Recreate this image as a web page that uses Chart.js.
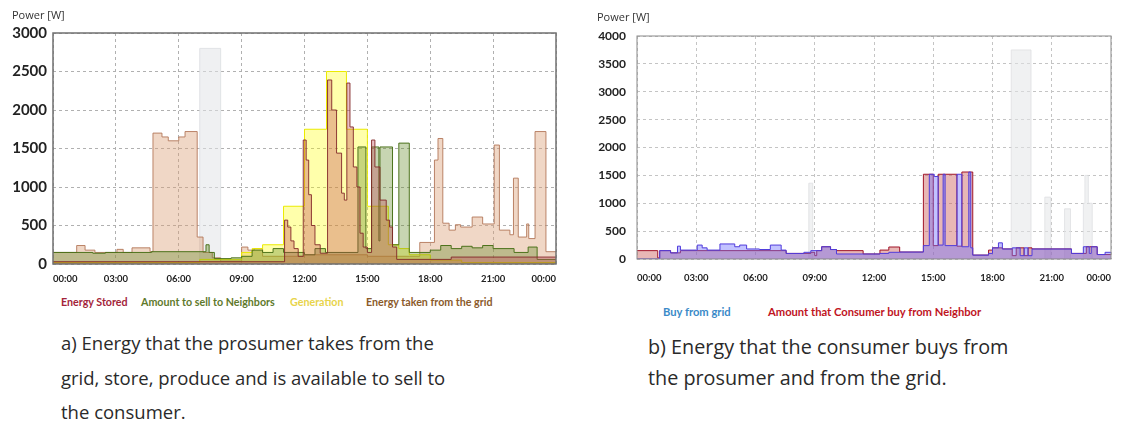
<!DOCTYPE html>
<html>
<head>
<meta charset="utf-8">
<script src="https://cdn.jsdelivr.net/npm/chart.js@4.4.1/dist/chart.umd.min.js"></script>
<style>
  body { margin: 0; background: #fff; }
  #wrap { position: relative; width: 1124px; height: 422px; overflow: hidden; background: #fff; }
  canvas { position: absolute; top: 0; }
  .txt { position: absolute; white-space: nowrap; }
  .unit { font: 11px 'Open Sans', sans-serif; color: #333; }
  .leg { font: bold 10.7px Lato, sans-serif; height: 14px; line-height: 14px; }
  .cap { font: 18.5px 'Open Sans', sans-serif; color: #2a2a2a; height: 26px; line-height: 26px; }
</style>
</head>
<body>
<div id="wrap">
  <canvas id="left-chart" width="572" height="290" style="left:0"></canvas>
  <canvas id="right-chart" width="544" height="290" style="left:580px"></canvas>

  <div class="txt unit" style="left:12px; top:7px">Power [W]</div>
  <div class="txt unit" style="left:597px; top:9px">Power [W]</div>

  <div class="txt leg" style="left:61px; top:295px; color:#a3243a">Energy Stored</div>
  <div class="txt leg" style="left:141px; top:295px; color:#5f7a2c">Amount to sell to Neighbors</div>
  <div class="txt leg" style="left:290px; top:295px; color:#e8d44a">Generation</div>
  <div class="txt leg" style="left:366px; top:295px; color:#8a5a2a">Energy taken from the grid</div>

  <div class="txt leg" style="left:663px; top:305px; color:#3a8ac8; font-size:11.2px">Buy from grid</div>
  <div class="txt leg" style="left:768px; top:305px; color:#c0141e; font-size:11.2px">Amount that Consumer buy from Neighbor</div>

  <div class="txt cap" style="left:61px; top:330px">a) Energy that the prosumer takes from the</div>
  <div class="txt cap" style="left:61px; top:365px">grid, store, produce and is available to sell to</div>
  <div class="txt cap" style="left:61px; top:399px">the consumer.</div>
  <div class="txt cap" style="left:648px; top:334px; font-size:19.8px">b) Energy that the consumer buys from</div>
  <div class="txt cap" style="left:648px; top:365px; font-size:19.8px">the prosumer and from the grid.</div>
</div>

<script>
// ---- a) prosumer (hours of the day, W) ----
let storedT = [0, 11.05, 11.2, 11.35, 11.5, 11.7, 11.94, 12.08, 12.2, 12.33, 12.5, 12.75, 13.1, 13.3, 13.53, 13.77, 13.9, 14.02, 14.17, 14.33, 14.5, 14.65, 14.8, 15.0, 15.2, 15.36, 15.6, 15.9, 16.06, 16.2, 16.4, 19.0, 24];
let storedV = [30, 570, 480, 300, 200, 100, 1610, 1350, 900, 500, 250, 140, 2390, 2000, 1440, 920, 830, 2350, 1780, 1260, 1000, 400, 220, 150, 1610, 1260, 830, 570, 480, 220, 60, 90, 90];

let sellT = [0, 1.9, 2.5, 4.7, 7.3, 7.45, 7.7, 8.5, 9.0, 9.5, 10.0, 10.5, 11.0, 12.0, 12.5, 13.0, 14.55, 14.93, 15.2, 15.55, 15.6, 16.2, 16.5, 17.0, 18.0, 18.5, 19.0, 19.5, 20.0, 20.5, 21.0, 22.0, 22.67, 23.1, 24];
let sellV = [150, 140, 150, 160, 250, 150, 70, 80, 100, 180, 150, 200, 150, 120, 200, 150, 1520, 200, 1520, 300, 1520, 250, 1570, 150, 180, 240, 200, 230, 210, 240, 200, 150, 220, 60, 60];

let genT = [0, 7.0, 9.0, 9.5, 10.0, 11.0, 12.0, 13.05, 14.0, 15.0, 16.0, 16.5, 17.0, 18.0, 19.5, 24];
let genV = [20, 60, 150, 200, 250, 750, 1750, 2500, 1750, 750, 250, 200, 120, 50, 20, 20];

let gridT = [0, 1.13, 1.53, 2.0, 3.05, 3.35, 3.77, 4.63, 4.77, 5.2, 5.5, 6.0, 6.3, 6.88, 7.16, 7.6, 8.0, 9.0, 9.3, 9.6, 10.0, 12.0, 15.0, 17.0, 17.5, 18.2, 18.37, 18.6, 18.9, 19.2, 19.45, 20.0, 20.5, 21.05, 21.3, 21.8, 21.97, 22.2, 22.6, 22.7, 23.0, 23.52, 24];
let gridV = [150, 240, 180, 150, 190, 150, 210, 160, 1700, 1650, 1600, 1650, 1720, 350, 150, 80, 40, 220, 180, 200, 100, 120, 100, 100, 280, 1350, 1630, 530, 440, 510, 480, 610, 520, 1545, 440, 380, 1115, 350, 520, 330, 1720, 160, 160];

let otherAT = [0, 7.0, 8.0, 24];
let otherAV = [0, 2800, 0, 0];

// ---- b) consumer ----
let buyGridT = [0, 1.15, 1.7, 2.05, 2.2, 3.05, 3.3, 3.55, 4.2, 4.95, 5.2, 5.55, 6.2, 6.75, 7.3, 7.55, 8.45, 8.8, 9.35, 9.8, 10.1, 11.45, 12.3, 12.75, 13.3, 14.5, 14.8, 15.05, 15.25, 15.5, 15.6, 16.2, 16.45, 16.8, 16.9, 17.0, 17.8, 18.0, 18.3, 18.5, 19.0, 19.4, 19.6, 19.8, 20.0, 22.0, 22.6, 22.9, 23.0, 23.3, 23.7, 24];
let buyGridV = [0, 150, 110, 230, 160, 250, 200, 160, 270, 220, 250, 180, 170, 250, 160, 100, 120, 150, 220, 170, 90, 90, 100, 120, 125, 240, 1520, 1480, 250, 1520, 240, 1520, 220, 1560, 200, 70, 100, 200, 290, 180, 200, 60, 200, 60, 180, 100, 220, 100, 220, 80, 120, 120];

let neighborT = [0, 1.05, 1.15, 1.7, 2.2, 7.3, 7.55, 8.8, 9.0, 9.1, 9.35, 9.8, 10.1, 11.45, 12.3, 12.75, 13.3, 14.5, 15.0, 15.25, 16.2, 16.45, 17.0, 17.8, 18.0, 18.5, 19.0, 19.2, 19.6, 19.8, 20.0, 22.0, 22.75, 22.9, 23.3, 24];
let neighborV = [150, 20, 150, 110, 150, 150, 100, 120, 60, 150, 220, 170, 150, 90, 160, 215, 125, 1520, 240, 1520, 230, 1560, 70, 160, 200, 180, 60, 200, 60, 200, 180, 100, 220, 220, 80, 80];

let otherBT = [0, 8.7, 8.9, 18.95, 19.95, 20.65, 20.95, 21.65, 21.95, 22.6, 22.68, 22.85, 23.05, 24];
let otherBV = [0, 1360, 0, 3750, 0, 1110, 0, 900, 0, 1000, 1500, 1000, 0, 0];

let hourTicks = [0, 3, 6, 9, 12, 15, 18, 21, 24];

function pts(t, v) {
  return t.map((x, i) => ({ x: x, y: v[i] }));
}

function hourLabel(v) {
  let h = v % 24;
  return (h < 10 ? '0' : '') + h + ':00';
}

let frame = {
  id: 'frame',
  afterDatasetsDraw(chart, args, opts) {
    let a = chart.chartArea;
    let ctx = chart.ctx;
    ctx.save();
    ctx.strokeStyle = opts.color;
    ctx.lineWidth = opts.width;
    ctx.strokeRect(a.left, a.top, a.right - a.left, a.bottom - a.top);
    ctx.restore();
  }
};

// each value holds from its time until the next time
function series(label, t, v, fill, border) {
  return {
    label: label,
    data: pts(t, v),
    stepped: 'before',
    fill: 'origin',
    backgroundColor: fill,
    borderColor: border,
    borderWidth: 1,
    pointRadius: 0
  };
}

function makeChart(id, datasets, yMax, cfg) {
  new Chart(document.getElementById(id), {
    type: 'line',
    data: { datasets: datasets },
    plugins: [frame],
    options: {
      responsive: false,
      animation: false,
      layout: { padding: { top: cfg.top, right: cfg.right, left: 0, bottom: 0 } },
      plugins: {
        legend: { display: false },
        tooltip: { enabled: false },
        frame: { color: cfg.frameColor, width: cfg.frameWidth }
      },
      scales: {
        x: {
          type: 'linear',
          min: 0,
          max: 24,
          afterFit: s => { s.height = cfg.xh; },
          afterBuildTicks: s => { s.ticks = hourTicks.map(v => ({ value: v })); },
          border: { display: false },
          grid: { color: cfg.gridColor, drawTicks: false },
          ticks: {
            align: 'inner',
            padding: cfg.xpad,
            maxRotation: 0,
            color: '#222',
            font: { family: 'Lato', weight: 'bold', size: 9.5 },
            callback: hourLabel
          }
        },
        y: {
          min: 0,
          max: yMax,
          afterFit: s => { s.width = cfg.yw; },
          border: { display: false },
          grid: { color: cfg.gridColor, drawTicks: false },
          ticks: {
            stepSize: 500,
            padding: cfg.ypad,
            color: '#222',
            font: { family: 'Lato', weight: 'bold', size: cfg.yfont },
            callback: v => String(v)
          }
        }
      }
    }
  });
}

// dashed grid lines
Chart.defaults.scale.border.dash = [3, 3];

makeChart('left-chart', [
  series('Energy Stored', storedT, storedV, 'rgba(190, 60, 80, 0.33)', 'rgba(130, 40, 40, 0.9)'),
  series('Amount to sell to Neighbors', sellT, sellV, 'rgba(95, 135, 35, 0.35)', 'rgba(70, 110, 20, 0.95)'),
  series('Generation', genT, genV, 'rgba(255, 255, 0, 0.33)', 'rgba(235, 235, 0, 1)'),
  series('Energy taken from the grid', gridT, gridV, 'rgba(220, 160, 120, 0.42)', 'rgba(180, 120, 90, 0.9)'),
  series('', otherAT, otherAV, 'rgba(225, 228, 232, 0.55)', 'rgba(220, 222, 226, 0.8)')
], 3000, { top: 33, right: 16, xh: 26, yw: 53, xpad: 9, ypad: 6, yfont: 15, gridColor: '#b0b0b0', frameColor: '#707070', frameWidth: 1.5 });

makeChart('right-chart', [
  series('Buy from grid', buyGridT, buyGridV, 'rgba(110, 110, 255, 0.42)', 'rgba(80, 60, 220, 1)'),
  series('Amount that Consumer buy from Neighbor', neighborT, neighborV, 'rgba(205, 95, 90, 0.45)', 'rgba(160, 20, 40, 1)'),
  series('', otherBT, otherBV, 'rgba(228, 230, 232, 0.55)', 'rgba(222, 224, 226, 0.8)')
], 4000, { top: 36, right: 7, xh: 31, yw: 57, xpad: 13, ypad: 11, yfont: 12, gridColor: '#c4c4c4', frameColor: '#8a8a8a', frameWidth: 1 });
</script>
</body>
</html>
